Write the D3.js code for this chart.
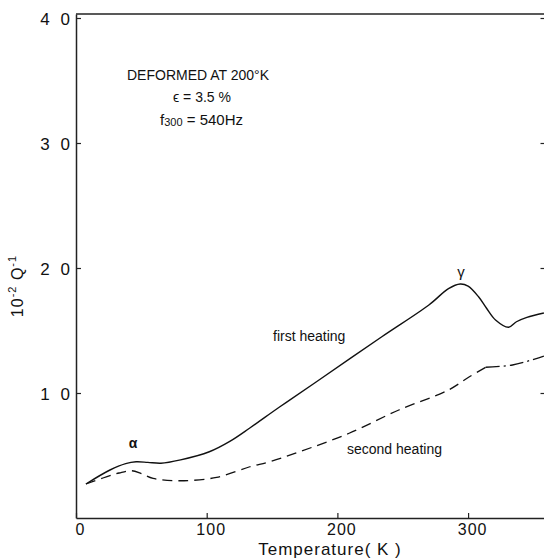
<!DOCTYPE html>
<html>
<head>
<meta charset="utf-8">
<script src="https://cdn.jsdelivr.net/npm/d3@7"></script>
<style>
  body { margin: 0; background: #fff; }
  text { font-family: "Liberation Sans", Arial, sans-serif; fill: #111; }
</style>
</head>
<body>
<svg width="544" height="558"></svg>
<script>
// temperature (K), 10^-2 Q^-1
const firstHeating = [
    [7.6, 2.72], [26, 3.84], [38, 4.35], [46, 4.5], [55, 4.45], [65, 4.38],
    [80, 4.65], [102, 5.3], [118, 6.15], [133, 7.2], [156, 8.9], [184, 10.9],
    [234, 14.5], [270, 17.04], [285, 18.35], [294, 18.72], [300, 18.55],
    [308, 17.7], [314, 16.8], [321, 15.84], [331, 15.26], [337, 15.7],
    [345, 16.05], [358, 16.4]
];
const secondHeating = [
    [7.6, 2.72], [20.6, 3.2], [33, 3.6], [42.6, 3.78], [50, 3.55], [59, 3.17],
    [79.6, 2.98], [107.6, 3.25], [133, 4.1], [148, 4.5], [171, 5.3], [209, 6.78],
    [247, 8.64], [285, 10.24], [301, 11.3], [313.5, 12.06], [334, 12.24], [358, 12.95]
];
const xTicks = [0, 100, 200, 300];
const yTicks = [10, 20, 30, 40];
const yTickLabels = ["1 0", "2 0", "3 0", "4 0"];

const svg = d3.select("svg");

const x = d3.scaleLinear().domain([0, 360]).range([76, 546.5]);
const y = d3.scaleLinear().domain([0, 40.32]).range([518, 14]);

// frame
svg.append("path")
    .attr("d", `M${x(0)},${y(40.32)}H${x(360)}`)
    .attr("stroke", "#222").attr("stroke-width", 1.5);

const xAxis = svg.append("g")
    .attr("transform", `translate(0,${y(0)})`)
    .call(d3.axisBottom(x).tickValues(xTicks).tickSizeInner(-5).tickSizeOuter(0).tickPadding(6));

const yAxis = svg.append("g")
    .attr("transform", `translate(${x(0)},0)`)
    .call(d3.axisLeft(y).tickValues(yTicks).tickSizeInner(-5).tickSizeOuter(0).tickPadding(3)
        .tickFormat((d, i) => yTickLabels[i]));

const yAxisRight = svg.append("g")
    .attr("transform", `translate(${x(360)},0)`)
    .call(d3.axisRight(y).tickValues(yTicks).tickSizeInner(-6).tickSizeOuter(0).tickFormat(""));

[xAxis, yAxis, yAxisRight].forEach(g => {
    g.select(".domain").attr("stroke", "#222").attr("stroke-width", 1.5);
    g.selectAll(".tick line").attr("stroke", "#222").attr("stroke-width", 1.2);
    g.selectAll("text").style("font-family", "Liberation Sans, Arial, sans-serif").attr("fill", "#111");
});
xAxis.selectAll("text").attr("font-size", 16).attr("letter-spacing", 1).attr("dx", 4);
yAxis.selectAll("text").attr("font-size", 17).attr("letter-spacing", 3).attr("dy", "0.4em");

const line = d3.line()
    .x(d => x(d[0]))
    .y(d => y(d[1]))
    .curve(d3.curveCatmullRom.alpha(0.5));

svg.append("path")
    .datum(firstHeating)
    .attr("d", line)
    .attr("fill", "none")
    .attr("stroke", "#111")
    .attr("stroke-width", 1.4);

svg.append("path")
    .datum(secondHeating.filter(d => d[0] <= 313.5))
    .attr("d", line)
    .attr("fill", "none")
    .attr("stroke", "#111")
    .attr("stroke-width", 1.3)
    .attr("stroke-dasharray", "10,6");

svg.append("path")
    .datum(secondHeating.filter(d => d[0] >= 313.5))
    .attr("d", line)
    .attr("fill", "none")
    .attr("stroke", "#111")
    .attr("stroke-width", 1.3)
    .attr("stroke-dasharray", "14,4,2,4");

// annotations
svg.append("text").attr("x", 127).attr("y", 80).attr("font-size", 14).text("DEFORMED AT 200°K");
svg.append("text").attr("x", 173).attr("y", 102).attr("font-size", 14).text("ϵ = 3.5 %");
const f = svg.append("text").attr("x", 160).attr("y", 125).attr("font-size", 15);
f.append("tspan").text("f");
f.append("tspan").attr("font-size", 11).attr("dy", 1).text("300");
f.append("tspan").attr("dy", -1).text(" = 540Hz");

svg.append("text").attr("x", 273).attr("y", 341).attr("font-size", 14).text("first heating");
svg.append("text").attr("x", 347).attr("y", 454).attr("font-size", 14).text("second heating");
svg.append("text").attr("x", 133).attr("y", 448).attr("font-size", 14).attr("font-weight", "bold")
    .attr("text-anchor", "middle").text("α");
svg.append("text").attr("x", 461).attr("y", 277).attr("font-size", 15)
    .attr("text-anchor", "middle").text("γ");

svg.append("text").attr("x", 330).attr("y", 555).attr("font-size", 17)
    .attr("letter-spacing", 1).attr("text-anchor", "middle").text("Temperature( K )");

const yl = svg.append("text")
    .attr("transform", "translate(23,286) rotate(-90)")
    .attr("text-anchor", "middle")
    .attr("font-size", 16)
    .attr("letter-spacing", 1);
yl.append("tspan").text("10");
yl.append("tspan").attr("font-size", 11).attr("dy", -7).text("-2");
yl.append("tspan").attr("dy", 7).text("  Q");
yl.append("tspan").attr("font-size", 11).attr("dy", -7).text("-1");
</script>
</body>
</html>
